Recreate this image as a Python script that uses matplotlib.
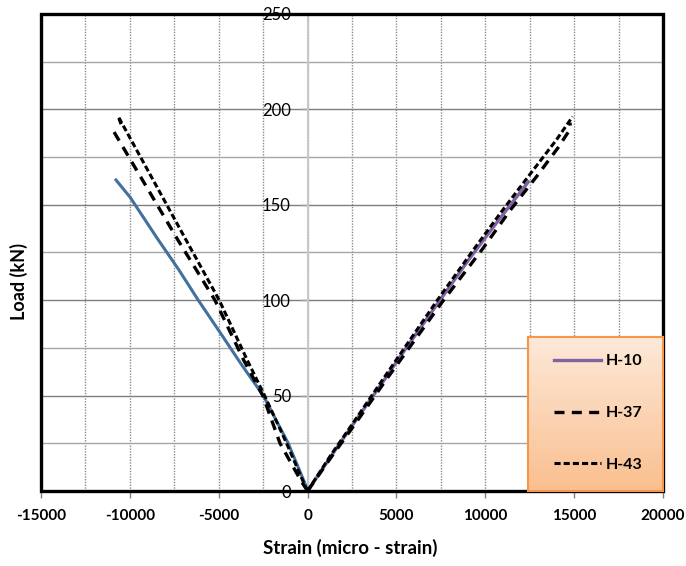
import matplotlib
matplotlib.use("Agg")
import matplotlib.pyplot as plt
import numpy as np
from matplotlib.patches import Rectangle

plt.rcParams["font.family"] = ["Lato", "DejaVu Sans"]
plt.rcParams["axes.unicode_minus"] = False

# compression side (negative strain)
comp_strain_h10 = [0, -150, -1090, -2490, -3700, -4990, -6150, -7250, -8400, -9990, -10780]
comp_load_h10 = [0, 4, 25, 50, 66, 84, 100, 116, 131.6, 154, 163]
comp_strain_h37 = [0, -350, -1550, -2520, -3600, -5210, -7300, -9100, -10900]
comp_load_h37 = [0, 5, 25, 50, 68.7, 100, 131.6, 160, 188.3]
comp_strain_h43 = [0, -250, -1180, -2420, -3400, -4970, -6840, -8750, -10650, -10470]
comp_load_h43 = [0, 5, 25, 50, 68.7, 100, 131.6, 164, 196.2, 191.5]

# tension side (positive strain)
ten_strain_h10 = [0, 1300, 2600, 4300, 5100, 7450, 9050, 10750, 12420]
ten_load_h10 = [0, 18, 35.5, 58, 69, 100, 121, 142, 162]
ten_strain_h37 = [0, 1350, 2700, 4400, 7650, 9800, 11390, 12900, 14100, 14680, 14800, 14760]
ten_load_h37 = [0, 18, 35.5, 58, 100, 126.3, 147, 165, 180, 188.3, 191, 193]
ten_strain_h43 = [0, 1250, 2550, 4200, 7300, 9325, 10920, 12515, 14000, 14910]
ten_load_h43 = [0, 18, 35.5, 58, 100, 126.3, 146.5, 166, 184, 196.2]

labels = ["H-10", "H-37", "H-43"]

W, H = 686, 566
fig = plt.figure(figsize=(W / 100, H / 100), dpi=100)
ax = fig.add_axes([41 / W, 1 - 491 / H, (663 - 41) / W, (491 - 14) / H])

purple = "#8064A2"
blue = "#41719C"
dash37 = (0, (3.0, 2.2))
dash43 = (0, (2.0, 1.0))

ax.plot(comp_strain_h10, comp_load_h10, color=blue, lw=2.2, zorder=4)
ax.plot(comp_strain_h37, comp_load_h37, color="black", lw=2.4, ls=dash37, zorder=5)
ax.plot(comp_strain_h43, comp_load_h43, color="black", lw=2.2, ls=dash43, zorder=5)
h10, = ax.plot(ten_strain_h10, ten_load_h10, color=purple, lw=2.4, zorder=4, label=labels[0])
h37, = ax.plot(ten_strain_h37, ten_load_h37, color="black", lw=2.4, ls=dash37, zorder=5, label=labels[1])
h43, = ax.plot(ten_strain_h43, ten_load_h43, color="black", lw=2.2, ls=dash43, zorder=5, label=labels[2])

ax.set_xlim(-15000, 20000)
ax.set_ylim(0, 250)
ax.set_xticks(np.arange(-15000, 20001, 5000))
ax.set_xticks(np.arange(-15000, 20001, 2500), minor=True)
ax.set_yticks(np.arange(0, 251, 50))
ax.set_yticks(np.arange(0, 251, 25), minor=True)

ax.grid(which="major", axis="y", color="#7f7f7f", lw=1.0, zorder=0)
ax.grid(which="minor", axis="y", color="#a6a6a6", lw=1.0, zorder=0)
ax.grid(which="both", axis="x", color="#8c8c8c", lw=1.0, ls=(0, (1, 1)), zorder=0)
ax.set_axisbelow(True)

for s in ["top", "right", "bottom"]:
    ax.spines[s].set_visible(False)
ax.spines["left"].set_position(("data", 0))
ax.spines["left"].set_color("#c8c8c8")
ax.spines["left"].set_linewidth(1.5)
ax.add_patch(Rectangle((0, 0), 1, 1, transform=ax.transAxes, fill=False,
                       lw=2.4, edgecolor="black", zorder=6, clip_on=False))

ax.tick_params(axis="x", which="major", length=5, width=1, color="#808080",
               labelsize=11, pad=8)
ax.tick_params(axis="x", which="minor", length=0)
ax.tick_params(axis="y", which="major", length=5, width=1, color="#a0a0a0",
               labelsize=12, pad=7)
ax.tick_params(axis="y", which="minor", length=0)
for t in ax.get_xticklabels():
    t.set_fontweight("bold")

fig.text(350 / W, 1 - 548 / H, "Strain (micro - strain)", ha="center", va="center",
         fontsize=13.5, fontweight="bold")
fig.text(19 / W, 1 - 282 / H, "Load (kN)", ha="center", va="center", rotation=90,
         fontsize=13, fontweight="bold")

# legend box with orange gradient
lx0, lx1, ly0, ly1 = 528, 663, 337, 491
lax = fig.add_axes([lx0 / W, 1 - ly1 / H, (lx1 - lx0) / W, (ly1 - ly0) / H])
grad = np.linspace(0, 1, 256).reshape(-1, 1)
top = np.array([0xFD, 0xE9, 0xD9]) / 255
bot = np.array([0xFA, 0xBF, 0x8F]) / 255
img = top[None, None, :] * (1 - grad[..., None]) + bot[None, None, :] * grad[..., None]
lax.imshow(img, aspect="auto", extent=(0, 1, 0, 1))
lax.set_xticks([])
lax.set_yticks([])
for s in lax.spines.values():
    s.set_color("#F79646")
    s.set_linewidth(1.5)

fig.legend(handles=[h10, h37, h43], loc="center",
           bbox_to_anchor=((lx0 + lx1) / 2 / W + 0.004, 1 - (ly0 + ly1 - 2) / 2 / H),
           frameon=False, handlelength=3.0, handletextpad=0.3,
           labelspacing=2.35, prop={"weight": "bold", "size": 11.5})

fig.savefig("out.png", dpi=100)
